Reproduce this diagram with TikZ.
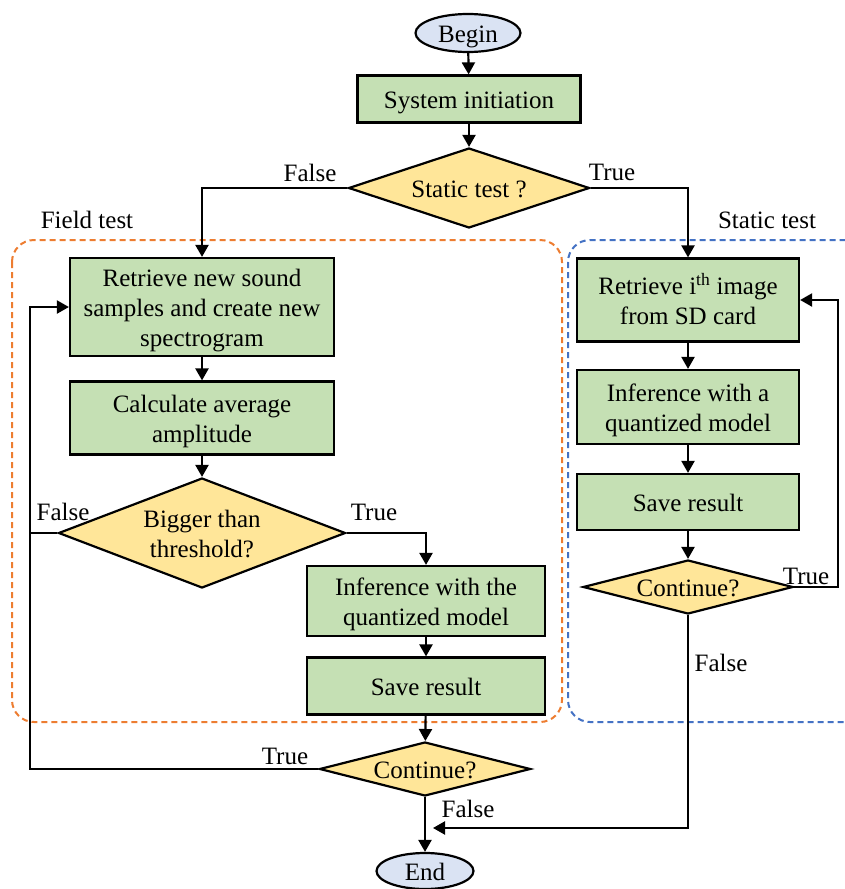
\documentclass[tikz,border=0pt]{standalone}
\usepackage{fontspec}
\setmainfont{Liberation Serif}
\usetikzlibrary{shapes.geometric,arrows.meta}
\definecolor{boxgreen}{HTML}{C5E0B4}
\definecolor{decyellow}{HTML}{FFE699}
\definecolor{termblue}{HTML}{DAE3F3}
\definecolor{fieldorange}{HTML}{ED7D31}
\definecolor{staticblue}{HTML}{4472C4}
\newcommand{\dn}[1]{\raisebox{-3.5pt}[\height][\depth]{\begin{tabular}{@{}c@{}}#1\end{tabular}}}
\tikzset{
  base/.style={draw=black, line width=2.2pt, inner sep=0pt, align=center, font=\fontsize{25}{30}\selectfont},
  procbox/.style={base, rectangle, fill=boxgreen},
  decbox/.style={base, diamond, fill=decyellow, aspect=3, inner sep=-10pt},
  termbox/.style={base, ellipse, fill=termblue, inner sep=-6pt},
  lbl/.style={font=\fontsize{25}{30}\selectfont, inner sep=0pt},
  arr/.style={line width=2.2pt, -{Triangle[length=12pt,width=13pt]}},
  ln/.style={line width=2.2pt},
  grp/.style={line width=2pt, dash pattern=on 6pt off 4pt, rounded corners=22pt}
}
\begin{document}
\begin{tikzpicture}[x=1pt,y=-1pt]
\useasboundingbox (0,0) rectangle (845,889);
\clip (0,0) rectangle (845,889);
% groups
\draw[grp, fieldorange] (12,240) rectangle (562,722);
\draw[grp, staticblue] (568,240) rectangle (890,722);
\node[lbl] (lfield) at (87,220) {Field test};
\node[lbl] (lstatic) at (767,220) {Static test};
% nodes
\node[termbox, minimum width=105pt, minimum height=38pt] (begin) at (468,33) {\dn{Begin}};
\node[procbox, minimum width=223pt, minimum height=47pt] (init) at (469,99) {\dn{System initiation}};
\node[decbox, minimum width=241pt, minimum height=80pt] (dec1) at (469,188) {\dn{Static test ?}};
\node[procbox, minimum width=264pt, minimum height=98pt] (fr1) at (202,307) {\dn{Retrieve new sound\\samples and create new\\spectrogram}};
\node[procbox, minimum width=264pt, minimum height=73pt] (fr2) at (202,418) {\dn{Calculate average\\amplitude}};
\node[decbox, minimum width=287pt, minimum height=110pt] (dec2) at (202,533) {\dn{Bigger than\\threshold?}};
\node[procbox, minimum width=238pt, minimum height=70pt] (fr3) at (426,601) {\dn{Inference with the\\quantized model}};
\node[procbox, minimum width=238pt, minimum height=57pt] (fr4) at (426,686) {\dn{Save result}};
\node[decbox, minimum width=211pt, minimum height=54pt] (cont1) at (425,769) {\dn{Continue?}};
\node[termbox, minimum width=97pt, minimum height=36pt] (end) at (425,871) {\dn{End}};
\node[procbox, minimum width=222pt, minimum height=83pt] (sr1) at (688,300) {\dn{Retrieve i\textsuperscript{th} image\\from SD card}};
\node[procbox, minimum width=222pt, minimum height=74pt] (sr2) at (688,407) {\dn{Inference with a\\quantized model}};
\node[procbox, minimum width=222pt, minimum height=56pt] (sr3) at (688,502) {\dn{Save result}};
\node[decbox, minimum width=210pt, minimum height=54pt] (cont2) at (688,587) {\dn{Continue?}};
% helper coordinates
\coordinate (lx) at (30,0);
\coordinate (rx) at (838,0);
\coordinate (mj) at (433,828);
% connectors
\draw[arr] (begin) -- (init);
\draw[arr] (init) -- (dec1);
\draw[arr] (dec1.west) -| (fr1.north);
\draw[arr] (dec1.east) -| (sr1.north);
\draw[arr] (fr1) -- (fr2);
\draw[arr] (fr2) -- (dec2);
\draw[arr] (dec2.east) -| (fr3.north);
\draw[arr] (fr3) -- (fr4);
\draw[arr] (fr4) -- (cont1);
\draw[ln] (dec2.west) -- (dec2.west -| lx);
\draw[arr] (cont1.west) -| (lx |- fr1.west) -- (fr1.west);
\draw[arr] (cont1.south) -- (end.north);
\draw[arr] (sr1) -- (sr2);
\draw[arr] (sr2) -- (sr3);
\draw[arr] (sr3) -- (cont2);
\draw[arr] (cont2.east) -| (rx |- sr1.east) -- (sr1.east);
\draw[arr] (cont2.south) |- (mj);
% labels
\node[lbl] (f1) at (310,173) {False};
\node[lbl] (t1) at (612,172) {True};
\node[lbl] (f2) at (63,512) {False};
\node[lbl] (t2) at (374,512) {True};
\node[lbl] (t3) at (806,576) {True};
\node[lbl] (f3) at (721,663) {False};
\node[lbl] (t4) at (285,756) {True};
\node[lbl] (f4) at (468,809) {False};
\end{tikzpicture}
\end{document}
